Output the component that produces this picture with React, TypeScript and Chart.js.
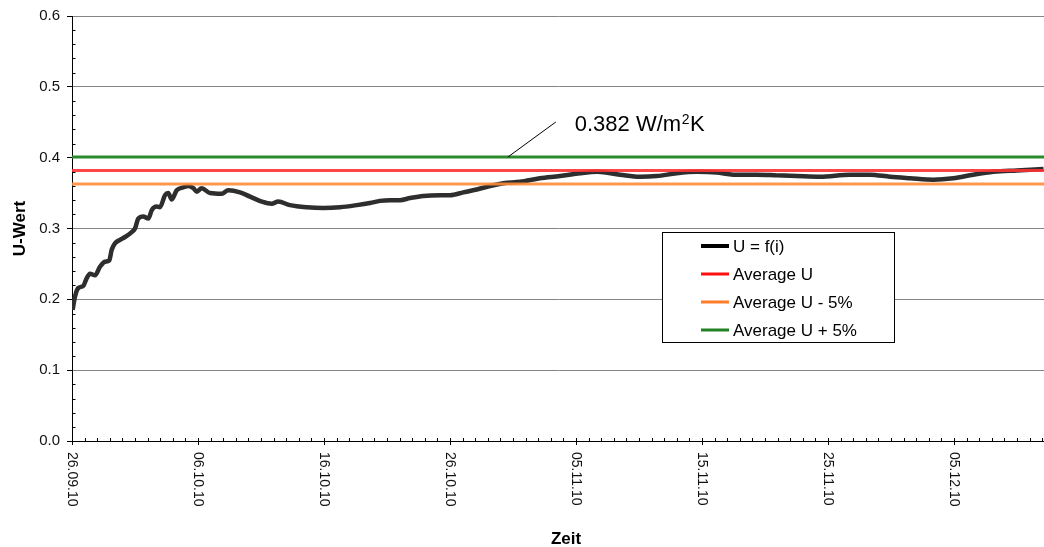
import React, { useEffect, useRef } from 'react';
import { Chart, registerables } from 'chart.js';

Chart.register(...registerables);

const FONT = 'Arial, "Liberation Sans", Helvetica, sans-serif';

// ---- data ----
const dayOffsets = [
  0.05, 0.24, 0.5, 0.9, 1.17, 1.43, 1.83, 2.22, 2.62, 2.96, 3.15, 3.41, 3.81, 4.21, 4.74, 5.0,
  5.26, 5.66, 6.06, 6.33, 6.72, 6.98, 7.38, 7.64, 7.91, 8.31, 8.83, 9.23, 9.63, 9.9, 10.29,
  10.95, 11.88, 12.4, 13.33, 14.13, 15.06, 15.85, 16.37, 17.3, 18.63, 19.94, 21.27, 22.6,
  23.65, 24.44, 25.24, 26.03, 26.83, 27.88, 29.21, 30.0, 31.06, 32.12, 33.17, 34.23, 35.56,
  37.14, 38.73, 40.32, 41.7, 43.49, 45.08, 46.4, 47.99, 49.58, 51.17, 52.48, 54.34, 55.93,
  57.52, 59.37, 61.75, 63.33, 64.92, 66.51, 68.36, 69.94, 71.53, 73.13, 74.98, 77.1,
];
const uValues = [
  0.185, 0.204, 0.216, 0.219, 0.23, 0.236, 0.234, 0.246, 0.253, 0.255, 0.27, 0.279, 0.284, 0.288, 0.295, 0.3,
  0.314, 0.317, 0.314, 0.326, 0.331, 0.33, 0.347, 0.35, 0.341, 0.354, 0.358, 0.36, 0.357, 0.352, 0.357,
  0.35, 0.349, 0.354, 0.351, 0.345, 0.338, 0.335, 0.338, 0.333, 0.33, 0.329, 0.33, 0.333,
  0.336, 0.339, 0.34, 0.34, 0.343, 0.346, 0.347, 0.347, 0.351, 0.355, 0.36, 0.364, 0.366,
  0.371, 0.374, 0.378, 0.38, 0.376, 0.373, 0.374, 0.378, 0.38, 0.379, 0.376, 0.376, 0.375,
  0.374, 0.373, 0.376, 0.376, 0.373, 0.371, 0.369, 0.371, 0.376, 0.38, 0.382, 0.384,
];
const averageU = 0.382;
const averageUMinus5 = 0.363;
const averageUPlus5 = 0.401;

const xMinDay = 0;
const xMaxDay = 77.14;
const xTickDays = [0, 10, 20, 30, 40, 50, 60, 70];
const xTickLabels = ['26.09.10', '06.10.10', '16.10.10', '26.10.10', '05.11.10', '15.11.10', '25.11.10', '05.12.10'];
const yMin = 0;
const yMax = 0.6;
const yStep = 0.1;
const yMinorStep = 0.02;

const seriesLabels = ['U = f(i)', 'Average U', 'Average U - 5%', 'Average U + 5%'];
const xTitle = 'Zeit';
const yTitle = 'U-Wert';
const annotationMain = '0.382 W/m';
const annotationSup = '2';
const annotationTail = 'K';

// annotation anchor (data coordinates)
const leaderStart = { day: 34.6, u: 0.401 };
const leaderEnd = { day: 38.4, u: 0.4504 };
const annotationAt = { day: 39.9, u: 0.438 };

const decorPlugin = {
  id: 'decor',
  afterDraw(chart: any) {
    const { ctx, chartArea, scales } = chart;
    const x = scales.x;
    const y = scales.y;
    ctx.save();

    // x ticks: daily minor, 10-day major
    ctx.strokeStyle = '#000';
    ctx.lineWidth = 1;
    for (let d = Math.ceil(xMinDay); d <= Math.floor(xMaxDay); d++) {
      const px = Math.round(x.getPixelForValue(d)) + 0.5;
      const major = xTickDays.includes(d);
      ctx.beginPath();
      ctx.moveTo(px, chartArea.bottom - 3);
      ctx.lineTo(px, chartArea.bottom + (major ? 4 : 0));
      ctx.stroke();
    }
    // y minor ticks, inward
    const nMinor = Math.round((yMax - yMin) / yMinorStep);
    for (let i = 1; i < nMinor; i++) {
      if (i % Math.round(yStep / yMinorStep) === 0) continue;
      const py = Math.round(y.getPixelForValue(yMin + i * yMinorStep)) + 0.5;
      ctx.beginPath();
      ctx.moveTo(chartArea.left, py);
      ctx.lineTo(chartArea.left + 3.5, py);
      ctx.stroke();
    }

    // x tick labels rotated clockwise
    ctx.fillStyle = '#111';
    ctx.font = `14px ${FONT}`;
    ctx.textAlign = 'left';
    ctx.textBaseline = 'middle';
    xTickDays.forEach((d, i) => {
      const px = x.getPixelForValue(d);
      ctx.save();
      ctx.translate(px - 0.5, chartArea.bottom + 11);
      ctx.rotate(Math.PI / 2);
      ctx.fillText(xTickLabels[i], 0, 0);
      ctx.restore();
    });

    // x title
    ctx.fillStyle = '#000';
    ctx.font = `bold 17px ${FONT}`;
    ctx.textAlign = 'center';
    ctx.textBaseline = 'middle';
    ctx.fillText(xTitle, (chartArea.left + chartArea.right) / 2 + 8, 539);

    // annotation leader + text
    ctx.strokeStyle = '#000';
    ctx.lineWidth = 1;
    ctx.beginPath();
    ctx.moveTo(x.getPixelForValue(leaderStart.day), y.getPixelForValue(leaderStart.u));
    ctx.lineTo(x.getPixelForValue(leaderEnd.day), y.getPixelForValue(leaderEnd.u));
    ctx.stroke();
    const tx = x.getPixelForValue(annotationAt.day);
    const ty = y.getPixelForValue(annotationAt.u);
    ctx.textAlign = 'left';
    ctx.textBaseline = 'alphabetic';
    ctx.fillStyle = '#000';
    ctx.font = `22px ${FONT}`;
    ctx.fillText(annotationMain, tx, ty);
    const w1 = ctx.measureText(annotationMain).width;
    ctx.font = `14px ${FONT}`;
    ctx.fillText(annotationSup, tx + w1 + 0.5, ty - 7);
    const w2 = ctx.measureText(annotationSup).width;
    ctx.font = `22px ${FONT}`;
    ctx.fillText(annotationTail, tx + w1 + w2 + 1, ty);

    // legend
    const lx = 662.5, ly = 232.5, lw = 232, lh = 110;
    ctx.fillStyle = '#fff';
    ctx.fillRect(lx, ly, lw, lh);
    ctx.strokeStyle = '#000';
    ctx.lineWidth = 1;
    ctx.strokeRect(lx, ly, lw, lh);
    ctx.font = `17px ${FONT}`;
    ctx.textBaseline = 'middle';
    ctx.textAlign = 'left';
    chart.data.datasets.forEach((ds: any, i: number) => {
      const rowY = 247.5 + i * 28;
      ctx.strokeStyle = ds.legendColor || ds.borderColor;
      ctx.lineWidth = i === 0 ? 4 : 3;
      ctx.beginPath();
      ctx.moveTo(701, rowY - 1.5);
      ctx.lineTo(729, rowY - 1.5);
      ctx.stroke();
      ctx.fillStyle = '#000';
      ctx.fillText(ds.label, 733, rowY);
    });

    ctx.restore();
  },
};

export default function App() {
  const canvasRef = useRef<HTMLCanvasElement | null>(null);

  useEffect(() => {
    document.body.style.margin = '0';
    const canvas = canvasRef.current;
    if (!canvas) return;
    const flat = (v: number) => [
      { x: xMinDay, y: v },
      { x: xMaxDay, y: v },
    ];
    const chart = new Chart(canvas, {
      type: 'line',
      data: {
        datasets: [
          {
            label: seriesLabels[0],
            data: dayOffsets.map((d, i) => ({ x: d, y: uValues[i] })),
            borderColor: '#2e2e2e',
            legendColor: '#000',
            borderWidth: 4.5,
            pointRadius: 0,
            cubicInterpolationMode: 'monotone',
            order: 4,
          } as any,
          {
            label: seriesLabels[1],
            data: flat(averageU),
            borderColor: 'rgba(255,50,50,0.9)',
            legendColor: '#ff1010',
            borderWidth: 3,
            pointRadius: 0,
            order: 2,
          },
          {
            label: seriesLabels[2],
            data: flat(averageUMinus5),
            borderColor: 'rgba(255,140,60,0.9)',
            legendColor: '#ff7d28',
            borderWidth: 3,
            pointRadius: 0,
            order: 3,
          },
          {
            label: seriesLabels[3],
            data: flat(averageUPlus5),
            borderColor: '#2b8a2b',
            legendColor: '#238023',
            borderWidth: 3,
            pointRadius: 0,
            order: 1,
          },
        ],
      },
      options: {
        animation: false,
        responsive: false,
        devicePixelRatio: 1,
        layout: { padding: { top: 16, right: 0, bottom: 0, left: 0 } },
        plugins: {
          legend: { display: false },
          tooltip: { enabled: false },
        },
        scales: {
          x: {
            type: 'linear',
            min: xMinDay,
            max: xMaxDay,
            ticks: { display: false },
            grid: { display: true, drawOnChartArea: false, drawTicks: false },
            border: { display: true, color: '#000', width: 1 },
            afterFit: (s: any) => {
              s.height = 106;
            },
          },
          y: {
            min: yMin,
            max: yMax,
            ticks: {
              stepSize: yStep,
              callback: (v: any) => Number(v).toFixed(1),
              font: { size: 15, family: FONT },
              color: '#111',
              padding: 7,
            },
            grid: {
              color: '#858585',
              lineWidth: 1,
              tickLength: 5,
              tickColor: '#000',
              drawTicks: true,
            },
            border: { display: true, color: '#000', width: 1 },
            title: {
              display: true,
              text: yTitle,
              color: '#000',
              font: { size: 17, weight: 'bold', family: FONT },
              padding: { top: 10, bottom: 0 },
            },
            afterFit: (s: any) => {
              s.width = 72;
            },
          },
        },
      },
      plugins: [decorPlugin],
    } as any);
    return () => chart.destroy();
  }, []);

  return (
    <div style={{ position: 'absolute', left: 0, top: 0, width: 1044, height: 547, background: '#fff' }}>
      <canvas ref={canvasRef} width={1044} height={547} style={{ display: 'block', width: 1044, height: 547 }} />
    </div>
  );
}
